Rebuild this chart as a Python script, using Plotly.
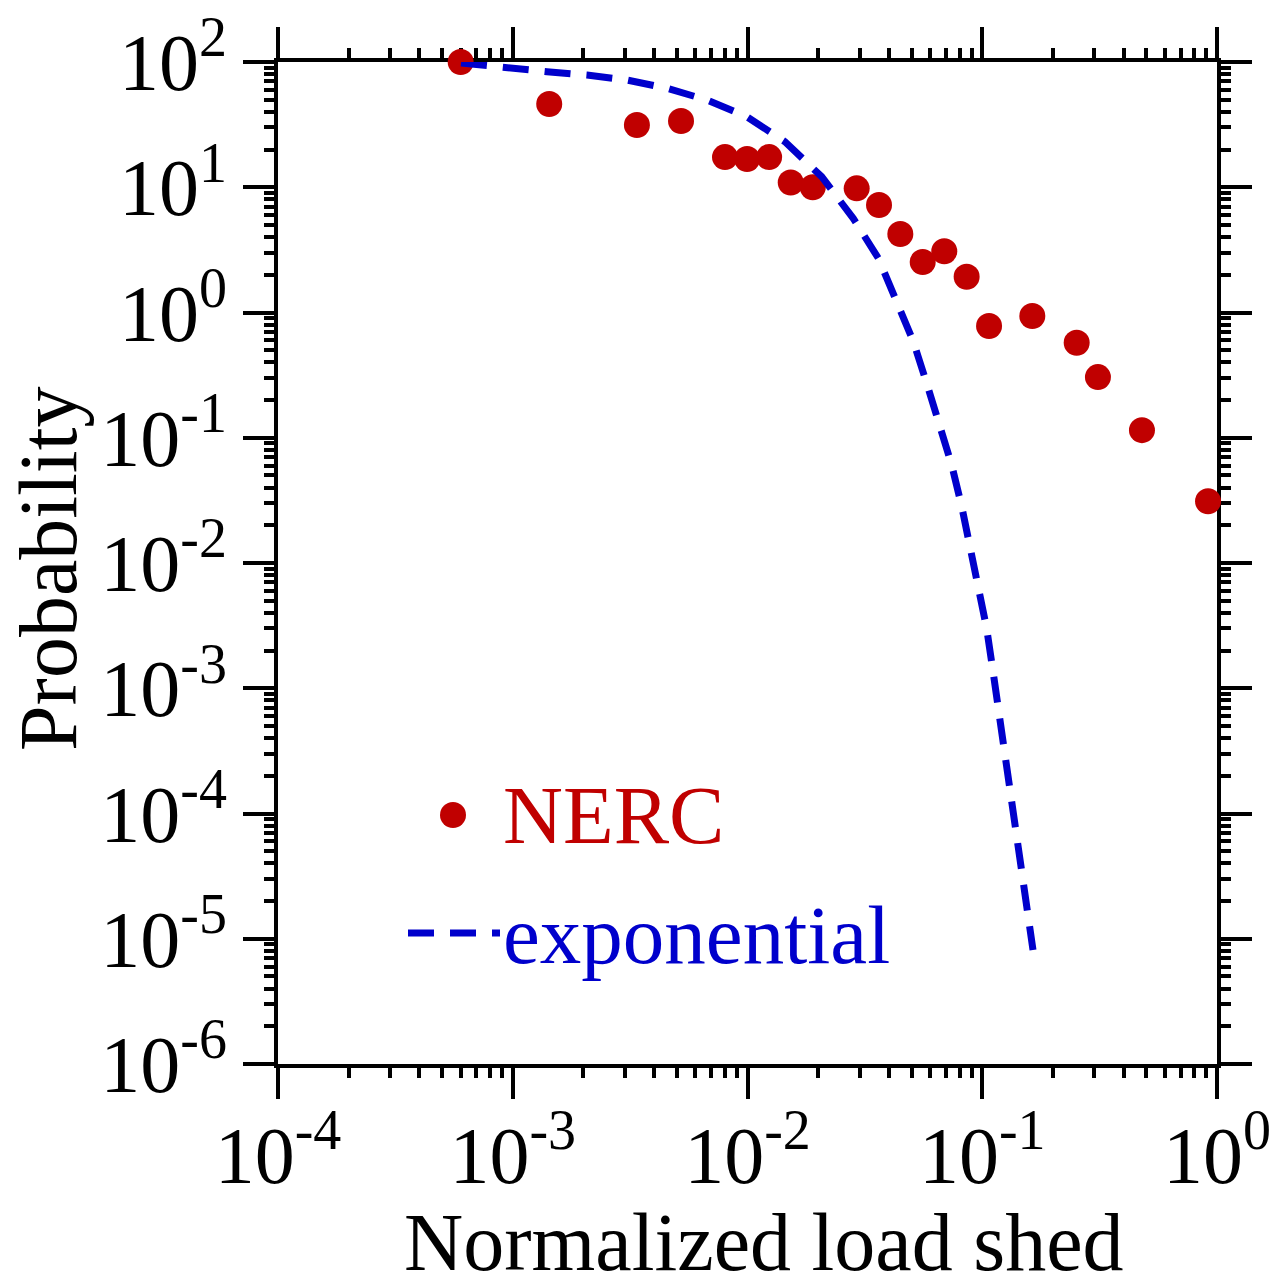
import plotly.graph_objects as go

# NERC blackout record: normalized load shed vs. probability (%)
nerc_load = [6.0e-4, 1.43e-3, 3.38e-3, 5.21e-3, 8.02e-3, 9.96e-3, 1.236e-2,
             1.528e-2, 1.897e-2, 2.918e-2, 3.633e-2, 4.477e-2, 5.576e-2,
             6.89e-2, 8.58e-2, 0.1069, 0.1634, 0.2525, 0.311, 0.479, 0.916]
nerc_prob = [100, 46.2, 31.4, 33.8, 17.4, 16.8, 17.4,
             10.9, 10.0, 9.8, 7.22, 4.23, 2.53,
             3.08, 1.93, 0.78, 0.937, 0.574, 0.305, 0.115, 0.0311]

# Exponential fit curve
exp_load = [6.02e-4, 9.45e-4, 1.398e-3, 2.07e-3, 3.07e-3, 4.54e-3, 6.72e-3,
            9.92e-3, 1.444e-2, 2.07e-2, 2.82e-2, 3.61e-2, 4.32e-2, 5.09e-2,
            5.80e-2, 6.61e-2, 7.41e-2, 8.18e-2, 8.87e-2, 9.62e-2, 0.1044,
            0.1108, 0.1171, 0.1250, 0.1313, 0.1393, 0.1472, 0.1571, 0.1645]
exp_prob = [98.2, 89.1, 83.7, 78.7, 71.8, 61.7, 49.7,
            36.6, 23.1, 12.14, 5.65, 2.71, 1.258, 0.585,
            0.272, 0.1264, 0.0606, 0.02815, 0.01367, 6.47e-3, 3.01e-3,
            1.417e-3, 6.79e-4, 3.21e-4, 1.54e-4, 7.29e-5, 3.49e-5, 1.644e-5, 8.13e-6]

x_tickvals = [1e-4, 1e-3, 1e-2, 1e-1, 1e0]
x_ticktext = ["10<sup>-4</sup>", "10<sup>-3</sup>", "10<sup>-2</sup>",
              "10<sup>-1</sup>", "10<sup>0</sup>"]
y_tickvals = [1e-6, 1e-5, 1e-4, 1e-3, 1e-2, 1e-1, 1e0, 1e1, 1e2]
y_ticktext = ["10<sup>-6</sup>", "10<sup>-5</sup>", "10<sup>-4</sup>",
              "10<sup>-3</sup>", "10<sup>-2</sup>", "10<sup>-1</sup>",
              "10<sup>0</sup>", "10<sup>1</sup>", "10<sup>2</sup>"]

RED = "#C00000"
BLUE = "#0000CC"
FONT = "Liberation Serif"
DASH = "26px,16px"

W, H = 1276, 1277
L, R, T, B = 278, 59, 62, 213
PW, PH = W - L - R, H - T - B


def px(xp):
    return (xp - L) / PW


def py(yp):
    return (H - B - yp) / PH


fig = go.Figure()
fig.add_trace(go.Scatter(
    x=nerc_load, y=nerc_prob, mode="markers", name="NERC",
    marker=dict(color=RED, size=26, line=dict(width=0)),
    cliponaxis=False, showlegend=False,
))
fig.add_trace(go.Scatter(
    x=exp_load, y=exp_prob, mode="lines", name="exponential",
    line=dict(color=BLUE, width=7, dash=DASH),
    cliponaxis=False, showlegend=False,
))

axis_common = dict(
    type="log", showgrid=False, zeroline=False,
    showline=True, linewidth=4, linecolor="black", mirror="allticks",
    ticks="outside", ticklen=31, tickwidth=4, tickcolor="black",
    tickfont=dict(family=FONT, size=80, color="black"),
    minor=dict(ticks="outside", ticklen=10, tickwidth=4, tickcolor="black",
               dtick="D1", showgrid=False),
    layer="below traces",
)

fig.update_xaxes(range=[-4, 0], tickvals=x_tickvals, ticktext=x_ticktext,
                 ticklabelstandoff=-12, **axis_common)
fig.update_yaxes(range=[-6, 2], tickvals=y_tickvals, ticktext=y_ticktext,
                 **axis_common)

# Axis titles
titles = [
    dict(text="Normalized load shed", x=px(764), y=py(1242), xref="paper", yref="paper",
         xanchor="center", yanchor="middle", showarrow=False,
         font=dict(family=FONT, size=82, color="black")),
    dict(text="Probability", x=px(48), y=py(569), xref="paper", yref="paper",
         xanchor="center", yanchor="middle", textangle=-90, showarrow=False,
         font=dict(family=FONT, size=82, color="black")),
]

# Legend keys
legend_shapes = [
    dict(type="circle", xref="paper", yref="paper", xsizemode="pixel", ysizemode="pixel",
         xanchor=px(453), yanchor=py(815), x0=-13, x1=13, y0=-13, y1=13,
         fillcolor=RED, line=dict(width=0)),
    dict(type="line", xref="paper", yref="paper",
         x0=px(408), x1=px(500), y0=py(933), y1=py(933),
         line=dict(color=BLUE, width=7, dash=DASH)),
]
legend_labels = [
    dict(text="NERC", x=px(501), y=py(815), xref="paper", yref="paper",
         xanchor="left", yanchor="middle", showarrow=False,
         font=dict(family=FONT, size=83, color=RED)),
    dict(text="exponential", x=px(501), y=py(935), xref="paper", yref="paper",
         xanchor="left", yanchor="middle", showarrow=False,
         font=dict(family=FONT, size=83, color=BLUE)),
]

fig.update_layout(
    width=W, height=H,
    margin=dict(l=L, r=R, t=T, b=B, autoexpand=False),
    paper_bgcolor="white", plot_bgcolor="white",
    shapes=legend_shapes, annotations=titles + legend_labels,
    showlegend=False,
)

fig.write_html("out.html")
